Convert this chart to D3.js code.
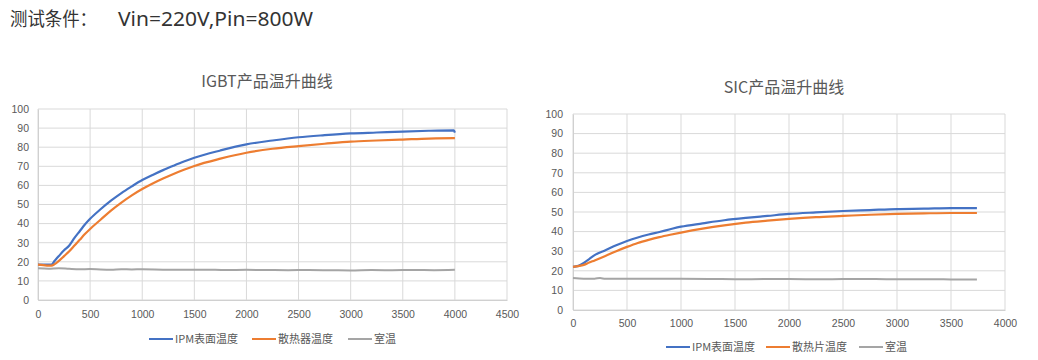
<!DOCTYPE html>
<html><head><meta charset="utf-8">
<script src="https://cdn.jsdelivr.net/npm/d3@7"></script>
<style>
body{margin:0;background:#fff;}
svg{display:block;font-family:"Noto Sans CJK SC","Noto Sans",sans-serif;}
</style></head>
<body><svg id="c" width="1038" height="360"></svg>
<script>
const pageTitleCJK = "测试条件：";
const pageTitleLatin = "Vin=220V,Pin=800W";
const seriesNames1 = ["IPM表面温度","散热器温度","室温"];
const seriesNames2 = ["IPM表面温度","散热片温度","室温"];
const yTicks = [0,10,20,30,40,50,60,70,80,90,100];
const xTicks1 = [0,500,1000,1500,2000,2500,3000,3500,4000,4500];
const xTicks2 = [0,500,1000,1500,2000,2500,3000,3500,4000];

// IGBT chart
const igbtTime = [0,50,100,130,160,200,250,300,350,400,450,500,600,700,800,900,1000,1100,1200,1300,1400,1500,1750,2000,2250,2500,2750,3000,3250,3500,3750,3990,4000];
const igbtIPM  = [18.5,18.5,18.5,18.6,20.5,23,26,28.5,32.5,36,39.5,42.5,47.5,52,56,59.5,62.8,65.5,68,70.3,72.5,74.5,78.3,81.5,83.5,85.2,86.3,87.2,87.7,88.2,88.6,88.8,87.6];
const igbtHS   = [18.5,18.3,18,18,18.8,20.5,23,25.5,28.5,31.5,34.5,37.2,42,46.8,51,54.8,58.1,61,63.6,66,68.2,70.2,74,77.1,79.2,80.6,81.8,82.9,83.5,84,84.5,84.7,84.7];
const igbtRoomTime = [0,100,200,300,400,500,600,700,800,900,1000,1200,1400,1600,1800,2000,2200,2400,2600,2800,3000,3200,3400,3600,3800,4000];
const igbtRoom     = [16.6,16.4,16.6,16.3,16.1,16.2,16.0,15.9,16.1,16.0,16.1,15.9,15.8,15.9,15.7,15.8,15.7,15.6,15.7,15.6,15.5,15.7,15.6,15.7,15.6,15.8];

// SIC chart
const sicTime = [0,50,100,150,200,300,400,500,600,700,800,900,1000,1200,1400,1600,1800,2000,2250,2500,2750,3000,3250,3500,3740];
const sicIPM  = [22,22.5,24,26,28,30.5,33,35.2,37,38.5,39.8,41.2,42.5,44.2,45.8,47,48,49,49.8,50.5,51,51.5,51.7,52,52];
const sicHS   = [22,22.4,23,24.2,25.3,27.6,30,32.2,34.2,35.8,37.2,38.4,39.5,41.5,43.2,44.6,45.6,46.5,47.4,48,48.6,49,49.3,49.5,49.5];
const sicRoomTime = [0,100,200,250,300,500,700,1000,1300,1500,1800,2000,2300,2500,2800,3000,3300,3500,3740];
const sicRoom     = [16.3,16.0,16.0,16.3,15.9,15.9,15.9,15.9,15.8,15.7,15.8,15.8,15.7,15.8,15.8,15.7,15.7,15.6,15.5];

const colors = ["#4472C4","#ED7D31","#A5A5A5"];
const svg = d3.select("#c");

svg.append("text").attr("x",10).attr("y",26).attr("font-size",19).attr("fill","#333")
  .attr("textLength",87).attr("lengthAdjust","spacingAndGlyphs")
  .attr("font-family","'Noto Sans CJK SC',sans-serif").text(pageTitleCJK);
svg.append("text").attr("x",118).attr("y",26).attr("font-size",19).attr("fill","#333")
  .attr("textLength",195).attr("lengthAdjust","spacingAndGlyphs")
  .attr("font-family","'Noto Sans',sans-serif").text(pageTitleLatin);

function drawChart(cfg){
  const x = d3.scaleLinear().domain([0, cfg.xMax]).range([cfg.left, cfg.right]);
  const y = d3.scaleLinear().domain([0,100]).range([cfg.bottom, cfg.top]);
  const g = svg.append("g");
  g.append("text").attr("x",cfg.titleX).attr("y",cfg.titleY).attr("text-anchor","middle")
    .attr("font-size",16).attr("fill","#595959").text(cfg.title);
  g.append("g").selectAll("line").data(yTicks).join("line")
    .attr("x1",cfg.left).attr("x2",cfg.right).attr("y1",d=>y(d)).attr("y2",d=>y(d))
    .attr("stroke","#d9d9d9").attr("stroke-width",1);
  g.append("g").selectAll("line").data(cfg.xTicks).join("line")
    .attr("y1",cfg.top).attr("y2",cfg.bottom).attr("x1",d=>x(d)).attr("x2",d=>x(d))
    .attr("stroke","#d9d9d9").attr("stroke-width",1);
  const ya = d3.axisLeft(y).tickValues(yTicks).tickSize(0).tickPadding(cfg.yPad).tickFormat(d3.format("d"));
  const yg = g.append("g").attr("transform",`translate(${cfg.left},0)`).call(ya);
  yg.select(".domain").attr("stroke","#d0d0d0");
  yg.selectAll("text").attr("font-size",10.5).attr("fill","#595959").attr("font-family","'Liberation Sans',sans-serif");
  const xa = d3.axisBottom(x).tickValues(cfg.xTicks).tickSize(0).tickPadding(cfg.xPad).tickFormat(d3.format("d"));
  const xg = g.append("g").attr("transform",`translate(0,${cfg.bottom})`).call(xa);
  xg.select(".domain").attr("stroke","#d0d0d0");
  xg.selectAll("text").attr("font-size",10.5).attr("fill","#595959").attr("font-family","'Liberation Sans',sans-serif");
  const line = d3.line().x(d=>x(d[0])).y(d=>y(d[1])).curve(d3.curveMonotoneX);
  cfg.series.forEach((s,i)=>{
    g.append("path").datum(s.t.map((t,j)=>[t,s.v[j]])).attr("d",line)
      .attr("fill","none").attr("stroke",colors[i]).attr("stroke-width", i===2?2:2.2);
  });
  cfg.legend.forEach((L,i)=>{
    g.append("line").attr("x1",L.x).attr("x2",L.x+24).attr("y1",cfg.legendY).attr("y2",cfg.legendY)
      .attr("stroke",colors[i]).attr("stroke-width",2);
    g.append("text").attr("x",L.x+26).attr("y",cfg.legendY+4).attr("font-size",11).attr("fill","#595959")
      .text(cfg.names[i]);
  });
}

drawChart({
  title:"IGBT产品温升曲线", titleX:267, titleY:87,
  left:38, right:507, top:109, bottom:300, xMax:4500, xTicks:xTicks1,
  yPad:9, xPad:11,
  series:[{t:igbtTime,v:igbtIPM},{t:igbtTime,v:igbtHS},{t:igbtRoomTime,v:igbtRoom}],
  names:seriesNames1, legendY:339,
  legend:[{x:149},{x:252},{x:348}]
});
drawChart({
  title:"SIC产品温升曲线", titleX:784, titleY:93,
  left:573, right:1005, top:114, bottom:310, xMax:4000, xTicks:xTicks2,
  yPad:10, xPad:10,
  series:[{t:sicTime,v:sicIPM},{t:sicTime,v:sicHS},{t:sicRoomTime,v:sicRoom}],
  names:seriesNames2, legendY:347,
  legend:[{x:666},{x:766},{x:859}]
});
</script></body></html>
